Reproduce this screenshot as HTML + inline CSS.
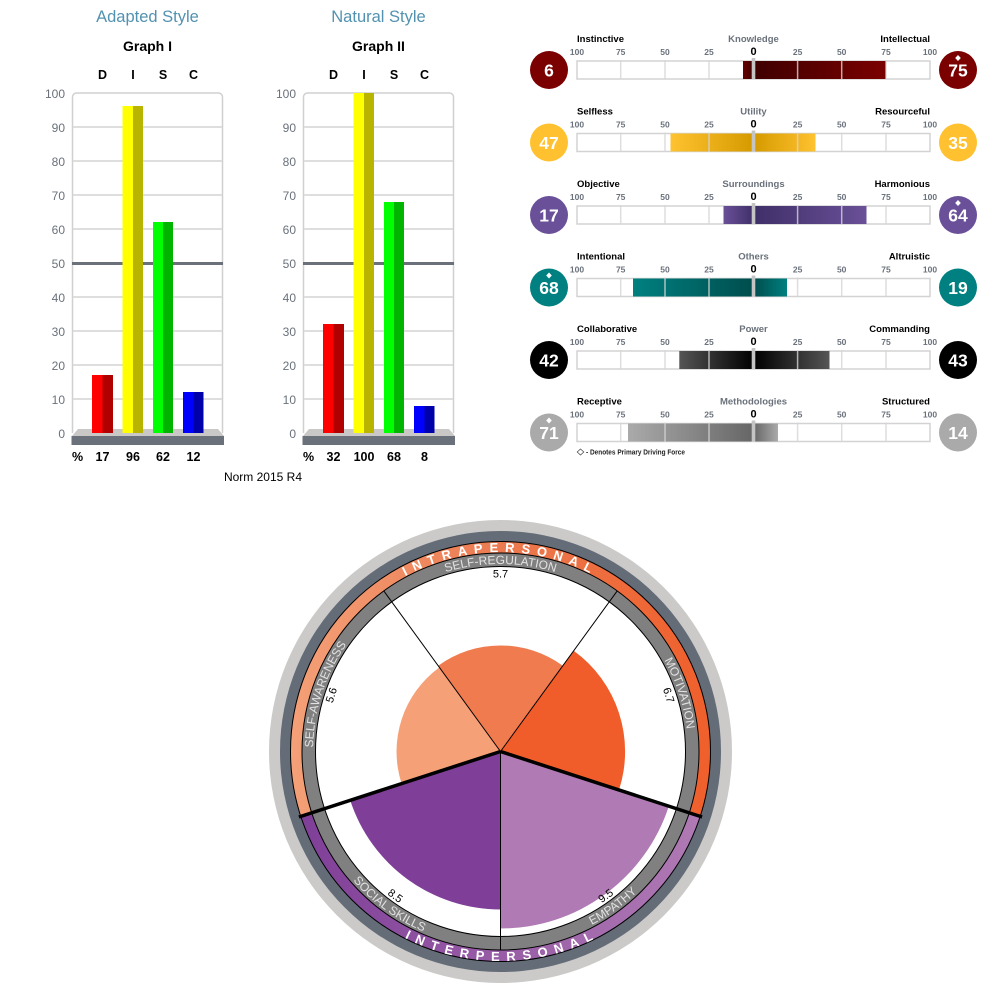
<!DOCTYPE html>
<html>
<head>
<meta charset="utf-8">
<style>
html,body{margin:0;padding:0;background:#fff}
svg{display:block;font-family:"Liberation Sans",sans-serif}
.y{font-size:12px;fill:#6a717b;text-anchor:end}
.b{font-size:12.5px;font-weight:bold;fill:#000;text-anchor:middle}
.h{font-size:16.5px;fill:#5292b0;text-anchor:middle}
.g{font-size:14px;font-weight:bold;fill:#000;text-anchor:middle}
.l{font-size:9.5px;font-weight:bold;fill:#000}
.c{font-size:9.5px;font-weight:bold;fill:#6a717b;text-anchor:middle}
.t{font-size:8.5px;font-weight:bold;fill:#6a717b;text-anchor:middle}
.z{font-size:11px;font-weight:bold;fill:#000;text-anchor:middle}
.n{font-size:17.5px;font-weight:bold;fill:#fff;text-anchor:middle}
.grid line{stroke:#dedede;stroke-width:2}
.tk line{stroke:#d6d6d6;stroke-width:1.5;stroke-opacity:.8}
.rl{font-size:12px;fill:#e2e2e2}
.rb{font-size:13px;font-weight:bold;fill:#fff;letter-spacing:6.65px}
.rb2{font-size:13px;font-weight:bold;fill:#fff;letter-spacing:7.05px}
.v{font-size:11px;fill:#000;text-anchor:middle}
</style>
</head>
<body>
<svg width="1000" height="1000" viewBox="0 0 1000 1000" xmlns="http://www.w3.org/2000/svg">
<defs>
<linearGradient id="a1"><stop offset="0" stop-color="#660000"/><stop offset="1" stop-color="#3e0000"/></linearGradient>
<linearGradient id="b1"><stop offset="0" stop-color="#3e0000"/><stop offset="1" stop-color="#7b0000"/></linearGradient>
<linearGradient id="a2"><stop offset="0" stop-color="#ffc230"/><stop offset="1" stop-color="#d69a00"/></linearGradient>
<linearGradient id="b2"><stop offset="0" stop-color="#d69a00"/><stop offset="1" stop-color="#ffc230"/></linearGradient>
<linearGradient id="a3"><stop offset="0" stop-color="#6a5098"/><stop offset="1" stop-color="#3f2f68"/></linearGradient>
<linearGradient id="b3"><stop offset="0" stop-color="#3f2f68"/><stop offset="1" stop-color="#6a5098"/></linearGradient>
<linearGradient id="a4"><stop offset="0" stop-color="#008080"/><stop offset="1" stop-color="#004d4d"/></linearGradient>
<linearGradient id="b4"><stop offset="0" stop-color="#004d4d"/><stop offset="1" stop-color="#008080"/></linearGradient>
<linearGradient id="a5"><stop offset="0" stop-color="#555"/><stop offset="1" stop-color="#000"/></linearGradient>
<linearGradient id="b5"><stop offset="0" stop-color="#000"/><stop offset="1" stop-color="#555"/></linearGradient>
<linearGradient id="a6"><stop offset="0" stop-color="#aaa"/><stop offset="1" stop-color="#666"/></linearGradient>
<linearGradient id="b6"><stop offset="0" stop-color="#666"/><stop offset="1" stop-color="#aaa"/></linearGradient>
<linearGradient id="ru" gradientUnits="userSpaceOnUse" x1="290" y1="0" x2="711" y2="0"><stop offset="0" stop-color="#f4a078"/><stop offset=".5" stop-color="#ec7a50"/><stop offset="1" stop-color="#ef5f2b"/></linearGradient>
<linearGradient id="rd" gradientUnits="userSpaceOnUse" x1="300" y1="0" x2="701" y2="0"><stop offset="0" stop-color="#7f3f98"/><stop offset="1" stop-color="#b07ab4"/></linearGradient>
<path id="uRb" d="M359.43,892.57 A199.5 199.5 0 1 1 641.57,892.57"/>
<path id="uRl" d="M367.92,884.08 A187.5 187.5 0 1 1 633.08,884.08"/>
<path id="dRb" d="M291,751.5 A209.5 209.5 0 0 0 710,751.5"/>
<path id="dRl" d="M304.5,751.5 A196 196 0 0 0 696.5,751.5"/>
</defs>

<!-- Chart I -->
<text class="h" x="147.5" y="22">Adapted Style</text>
<text class="g" x="147.5" y="51">Graph I</text>
<text class="b" x="102.5" y="79">D</text><text class="b" x="133" y="79">I</text><text class="b" x="163" y="79">S</text><text class="b" x="193.5" y="79">C</text>
<path d="M72.5,433 V97 a4,4 0 0 1 4,-4 H218.5 a4,4 0 0 1 4,4 V433" fill="#fff" stroke="#d0d0d0" stroke-width="1.5"/>
<g class="grid"><line x1="73" x2="222" y1="127" y2="127"/><line x1="73" x2="222" y1="161" y2="161"/><line x1="73" x2="222" y1="195" y2="195"/><line x1="73" x2="222" y1="229" y2="229"/><line x1="73" x2="222" y1="297" y2="297"/><line x1="73" x2="222" y1="331" y2="331"/><line x1="73" x2="222" y1="365" y2="365"/><line x1="73" x2="222" y1="399" y2="399"/></g>
<rect x="72" y="262" width="151" height="3" fill="#6a717b"/>
<polygon points="78,429 218,429 224,436 72,436" fill="#cac8c6"/>
<rect x="71.5" y="436" width="152.5" height="9" fill="#6a717b"/>
<rect x="92" y="375" width="10.5" height="58" fill="#f00"/><rect x="102.5" y="375" width="10.5" height="58" fill="#b00000"/>
<rect x="122.5" y="106" width="10.5" height="327" fill="#ff0"/><rect x="133" y="106" width="10" height="327" fill="#b8b400"/>
<rect x="153" y="222" width="10" height="211" fill="#0f0"/><rect x="163" y="222" width="10" height="211" fill="#00b400"/>
<rect x="183" y="392" width="10.5" height="41" fill="#00f"/><rect x="193.5" y="392" width="10" height="41" fill="#00a"/>
<text class="y" x="65" y="98">100</text><text class="y" x="65" y="132">90</text><text class="y" x="65" y="166">80</text><text class="y" x="65" y="200">70</text><text class="y" x="65" y="234">60</text><text class="y" x="65" y="268">50</text><text class="y" x="65" y="302">40</text><text class="y" x="65" y="336">30</text><text class="y" x="65" y="370">20</text><text class="y" x="65" y="404">10</text><text class="y" x="65" y="438">0</text>
<text class="b" x="77.5" y="461">%</text><text class="b" x="102.5" y="461">17</text><text class="b" x="133" y="461">96</text><text class="b" x="163" y="461">62</text><text class="b" x="193.5" y="461">12</text>
<text x="263" y="481" font-size="12" fill="#000" text-anchor="middle">Norm 2015 R4</text>

<!-- Chart II -->
<text class="h" x="378.5" y="22">Natural Style</text>
<text class="g" x="378.5" y="51">Graph II</text>
<text class="b" x="333.5" y="79">D</text><text class="b" x="364" y="79">I</text><text class="b" x="394" y="79">S</text><text class="b" x="424.5" y="79">C</text>
<path d="M303.5,433 V97 a4,4 0 0 1 4,-4 H449.5 a4,4 0 0 1 4,4 V433" fill="#fff" stroke="#d0d0d0" stroke-width="1.5"/>
<g class="grid"><line x1="304" x2="453" y1="127" y2="127"/><line x1="304" x2="453" y1="161" y2="161"/><line x1="304" x2="453" y1="195" y2="195"/><line x1="304" x2="453" y1="229" y2="229"/><line x1="304" x2="453" y1="297" y2="297"/><line x1="304" x2="453" y1="331" y2="331"/><line x1="304" x2="453" y1="365" y2="365"/><line x1="304" x2="453" y1="399" y2="399"/></g>
<rect x="303" y="262" width="151" height="3" fill="#6a717b"/>
<polygon points="309,429 449,429 455,436 303,436" fill="#cac8c6"/>
<rect x="302.5" y="436" width="152.5" height="9" fill="#6a717b"/>
<rect x="323" y="324" width="10.5" height="109" fill="#f00"/><rect x="333.5" y="324" width="10.5" height="109" fill="#b00000"/>
<rect x="353.5" y="93" width="10.5" height="340" fill="#ff0"/><rect x="364" y="93" width="10" height="340" fill="#b8b400"/>
<rect x="384" y="202" width="10" height="231" fill="#0f0"/><rect x="394" y="202" width="10" height="231" fill="#00b400"/>
<rect x="414" y="406" width="10.5" height="27" fill="#00f"/><rect x="424.5" y="406" width="10" height="27" fill="#00a"/>
<text class="y" x="296" y="98">100</text><text class="y" x="296" y="132">90</text><text class="y" x="296" y="166">80</text><text class="y" x="296" y="200">70</text><text class="y" x="296" y="234">60</text><text class="y" x="296" y="268">50</text><text class="y" x="296" y="302">40</text><text class="y" x="296" y="336">30</text><text class="y" x="296" y="370">20</text><text class="y" x="296" y="404">10</text><text class="y" x="296" y="438">0</text>
<text class="b" x="308.5" y="461">%</text><text class="b" x="333.5" y="461">32</text><text class="b" x="364" y="461">100</text><text class="b" x="394" y="461">68</text><text class="b" x="424.5" y="461">8</text>

<!-- Row 1 -->
<g>
<text class="l" x="577" y="42">Instinctive</text><text class="c" x="753.5" y="42">Knowledge</text><text class="l" x="930" y="42" text-anchor="end">Intellectual</text>
<text class="t" x="577" y="55">100</text><text class="t" x="620.7" y="55">75</text><text class="t" x="665" y="55">50</text><text class="t" x="709" y="55">25</text><text class="z" x="753.5" y="55">0</text><text class="t" x="797.6" y="55">25</text><text class="t" x="841.7" y="55">50</text><text class="t" x="886" y="55">75</text><text class="t" x="930" y="55">100</text>
<rect x="577" y="61" width="353" height="18" fill="#fff" stroke="#d3d3d3" stroke-width="1.5"/>
<rect x="743" y="61" width="10.5" height="18" fill="url(#a1)"/><rect x="753.5" y="61" width="132.5" height="18" fill="url(#b1)"/>
<g class="tk"><line x1="620.7" x2="620.7" y1="60" y2="79"/><line x1="665" x2="665" y1="60" y2="79"/><line x1="709" x2="709" y1="60" y2="79"/><line x1="797.6" x2="797.6" y1="60" y2="79"/><line x1="841.7" x2="841.7" y1="60" y2="79"/><line x1="886" x2="886" y1="60" y2="79"/></g>
<rect x="751.7" y="58" width="3.6" height="21" fill="#c4c4c4"/>
<circle cx="549" cy="70" r="19" fill="#7b0000"/><circle cx="958" cy="70" r="19" fill="#7b0000"/>
<text class="n" x="549" y="76.5">6</text><text class="n" x="958" y="76.5">75</text>
<polygon points="958,55 960.8,58 958,61 955.2,58" fill="#fff"/>
</g>
<!-- Row 2 -->
<g transform="translate(0,72.5)">
<text class="l" x="577" y="42">Selfless</text><text class="c" x="753.5" y="42">Utility</text><text class="l" x="930" y="42" text-anchor="end">Resourceful</text>
<text class="t" x="577" y="55">100</text><text class="t" x="620.7" y="55">75</text><text class="t" x="665" y="55">50</text><text class="t" x="709" y="55">25</text><text class="z" x="753.5" y="55">0</text><text class="t" x="797.6" y="55">25</text><text class="t" x="841.7" y="55">50</text><text class="t" x="886" y="55">75</text><text class="t" x="930" y="55">100</text>
<rect x="577" y="61" width="353" height="18" fill="#fff" stroke="#d3d3d3" stroke-width="1.5"/>
<rect x="670.5" y="61" width="83" height="18" fill="url(#a2)"/><rect x="753.5" y="61" width="62" height="18" fill="url(#b2)"/>
<g class="tk"><line x1="620.7" x2="620.7" y1="60" y2="79"/><line x1="665" x2="665" y1="60" y2="79"/><line x1="709" x2="709" y1="60" y2="79"/><line x1="797.6" x2="797.6" y1="60" y2="79"/><line x1="841.7" x2="841.7" y1="60" y2="79"/><line x1="886" x2="886" y1="60" y2="79"/></g>
<rect x="751.7" y="58" width="3.6" height="21" fill="#c4c4c4"/>
<circle cx="549" cy="70" r="19" fill="#ffc12f"/><circle cx="958" cy="70" r="19" fill="#ffc12f"/>
<text class="n" x="549" y="76.5">47</text><text class="n" x="958" y="76.5">35</text>
</g>
<!-- Row 3 -->
<g transform="translate(0,145)">
<text class="l" x="577" y="42">Objective</text><text class="c" x="753.5" y="42">Surroundings</text><text class="l" x="930" y="42" text-anchor="end">Harmonious</text>
<text class="t" x="577" y="55">100</text><text class="t" x="620.7" y="55">75</text><text class="t" x="665" y="55">50</text><text class="t" x="709" y="55">25</text><text class="z" x="753.5" y="55">0</text><text class="t" x="797.6" y="55">25</text><text class="t" x="841.7" y="55">50</text><text class="t" x="886" y="55">75</text><text class="t" x="930" y="55">100</text>
<rect x="577" y="61" width="353" height="18" fill="#fff" stroke="#d3d3d3" stroke-width="1.5"/>
<rect x="723.5" y="61" width="30" height="18" fill="url(#a3)"/><rect x="753.5" y="61" width="113" height="18" fill="url(#b3)"/>
<g class="tk"><line x1="620.7" x2="620.7" y1="60" y2="79"/><line x1="665" x2="665" y1="60" y2="79"/><line x1="709" x2="709" y1="60" y2="79"/><line x1="797.6" x2="797.6" y1="60" y2="79"/><line x1="841.7" x2="841.7" y1="60" y2="79"/><line x1="886" x2="886" y1="60" y2="79"/></g>
<rect x="751.7" y="58" width="3.6" height="21" fill="#c4c4c4"/>
<circle cx="549" cy="70" r="19" fill="#6a5098"/><circle cx="958" cy="70" r="19" fill="#6a5098"/>
<text class="n" x="549" y="76.5">17</text><text class="n" x="958" y="76.5">64</text>
<polygon points="958,55 960.8,58 958,61 955.2,58" fill="#fff"/>
</g>
<!-- Row 4 -->
<g transform="translate(0,217.5)">
<text class="l" x="577" y="42">Intentional</text><text class="c" x="753.5" y="42">Others</text><text class="l" x="930" y="42" text-anchor="end">Altruistic</text>
<text class="t" x="577" y="55">100</text><text class="t" x="620.7" y="55">75</text><text class="t" x="665" y="55">50</text><text class="t" x="709" y="55">25</text><text class="z" x="753.5" y="55">0</text><text class="t" x="797.6" y="55">25</text><text class="t" x="841.7" y="55">50</text><text class="t" x="886" y="55">75</text><text class="t" x="930" y="55">100</text>
<rect x="577" y="61" width="353" height="18" fill="#fff" stroke="#d3d3d3" stroke-width="1.5"/>
<rect x="633" y="61" width="120.5" height="18" fill="url(#a4)"/><rect x="753.5" y="61" width="33.5" height="18" fill="url(#b4)"/>
<g class="tk"><line x1="620.7" x2="620.7" y1="60" y2="79"/><line x1="665" x2="665" y1="60" y2="79"/><line x1="709" x2="709" y1="60" y2="79"/><line x1="797.6" x2="797.6" y1="60" y2="79"/><line x1="841.7" x2="841.7" y1="60" y2="79"/><line x1="886" x2="886" y1="60" y2="79"/></g>
<rect x="751.7" y="58" width="3.6" height="21" fill="#c4c4c4"/>
<circle cx="549" cy="70" r="19" fill="#008080"/><circle cx="958" cy="70" r="19" fill="#008080"/>
<text class="n" x="549" y="76.5">68</text><text class="n" x="958" y="76.5">19</text>
<polygon points="549,55 551.8,58 549,61 546.2,58" fill="#fff"/>
</g>
<!-- Row 5 -->
<g transform="translate(0,290)">
<text class="l" x="577" y="42">Collaborative</text><text class="c" x="753.5" y="42">Power</text><text class="l" x="930" y="42" text-anchor="end">Commanding</text>
<text class="t" x="577" y="55">100</text><text class="t" x="620.7" y="55">75</text><text class="t" x="665" y="55">50</text><text class="t" x="709" y="55">25</text><text class="z" x="753.5" y="55">0</text><text class="t" x="797.6" y="55">25</text><text class="t" x="841.7" y="55">50</text><text class="t" x="886" y="55">75</text><text class="t" x="930" y="55">100</text>
<rect x="577" y="61" width="353" height="18" fill="#fff" stroke="#d3d3d3" stroke-width="1.5"/>
<rect x="679.3" y="61" width="74.2" height="18" fill="url(#a5)"/><rect x="753.5" y="61" width="76" height="18" fill="url(#b5)"/>
<g class="tk"><line x1="620.7" x2="620.7" y1="60" y2="79"/><line x1="665" x2="665" y1="60" y2="79"/><line x1="709" x2="709" y1="60" y2="79"/><line x1="797.6" x2="797.6" y1="60" y2="79"/><line x1="841.7" x2="841.7" y1="60" y2="79"/><line x1="886" x2="886" y1="60" y2="79"/></g>
<rect x="751.7" y="58" width="3.6" height="21" fill="#c4c4c4"/>
<circle cx="549" cy="70" r="19" fill="#000"/><circle cx="958" cy="70" r="19" fill="#000"/>
<text class="n" x="549" y="76.5">42</text><text class="n" x="958" y="76.5">43</text>
</g>
<!-- Row 6 -->
<g transform="translate(0,362.5)">
<text class="l" x="577" y="42">Receptive</text><text class="c" x="753.5" y="42">Methodologies</text><text class="l" x="930" y="42" text-anchor="end">Structured</text>
<text class="t" x="577" y="55">100</text><text class="t" x="620.7" y="55">75</text><text class="t" x="665" y="55">50</text><text class="t" x="709" y="55">25</text><text class="z" x="753.5" y="55">0</text><text class="t" x="797.6" y="55">25</text><text class="t" x="841.7" y="55">50</text><text class="t" x="886" y="55">75</text><text class="t" x="930" y="55">100</text>
<rect x="577" y="61" width="353" height="18" fill="#fff" stroke="#d3d3d3" stroke-width="1.5"/>
<rect x="628" y="61" width="125.5" height="18" fill="url(#a6)"/><rect x="753.5" y="61" width="24.5" height="18" fill="url(#b6)"/>
<g class="tk"><line x1="620.7" x2="620.7" y1="60" y2="79"/><line x1="665" x2="665" y1="60" y2="79"/><line x1="709" x2="709" y1="60" y2="79"/><line x1="797.6" x2="797.6" y1="60" y2="79"/><line x1="841.7" x2="841.7" y1="60" y2="79"/><line x1="886" x2="886" y1="60" y2="79"/></g>
<rect x="751.7" y="58" width="3.6" height="21" fill="#c4c4c4"/>
<circle cx="549" cy="70" r="19" fill="#aaa"/><circle cx="958" cy="70" r="19" fill="#aaa"/>
<text class="n" x="549" y="76.5">71</text><text class="n" x="958" y="76.5">14</text>
<polygon points="549,55 551.8,58 549,61 546.2,58" fill="#fff"/>
</g>
<polygon points="580.5,449 583.8,452 580.5,455 577.2,452" fill="#fff" stroke="#444" stroke-width=".7"/>
<text x="586" y="454.5" font-size="7" font-weight="bold" fill="#222" textLength="99" lengthAdjust="spacingAndGlyphs">- Denotes Primary Driving Force</text>

<!-- Wheel -->
<circle cx="500.5" cy="751.5" r="231.5" fill="#cbcac8"/>
<circle cx="500.5" cy="751.5" r="220.5" fill="#646c77"/>
<circle cx="500.5" cy="751.5" r="210" fill="url(#ru)"/>
<path d="M500.5,751.5 L700.2,816.4 A210 210 0 0 1 300.8,816.4 Z" fill="url(#rd)"/>
<circle cx="500.5" cy="751.5" r="210" fill="none" stroke="#000" stroke-width="1"/>
<circle cx="500.5" cy="751.5" r="198.5" fill="#808080" stroke="#000" stroke-width="1"/>
<circle cx="500.5" cy="751.5" r="185" fill="#fff" stroke="#000" stroke-width="1"/>
<path d="M500.5,751.5 L438.2,665.7 A106 106 0 0 1 562.8,665.7 Z" fill="#f07b4e"/>
<path d="M500.5,751.5 L573.7,650.7 A124.6 124.6 0 0 1 619,790 Z" fill="#f15d2a"/>
<path d="M500.5,751.5 L401.6,783.6 A104 104 0 0 1 439.4,667.4 Z" fill="#f5a077"/>
<path d="M500.5,751.5 L500.5,909.5 A158 158 0 0 1 350.2,800.3 Z" fill="#7f3f98"/>
<path d="M500.5,751.5 L668.8,806.2 A177 177 0 0 1 500.5,928.5 Z" fill="#b07ab4"/>
<line x1="500.5" y1="751.5" x2="617.2" y2="590.9" stroke="#000" stroke-width="1"/>
<line x1="500.5" y1="751.5" x2="383.8" y2="590.9" stroke="#000" stroke-width="1"/>
<line x1="500.5" y1="751.5" x2="500.5" y2="950" stroke="#000" stroke-width="1"/>
<line x1="500.5" y1="751.5" x2="702.1" y2="817" stroke="#000" stroke-width="3.5"/>
<line x1="500.5" y1="751.5" x2="298.9" y2="817" stroke="#000" stroke-width="3.5"/>

<text class="rb" text-anchor="middle"><textPath href="#uRb" startOffset="50%">INTRAPERSONAL</textPath></text>
<text class="rb2" text-anchor="middle"><textPath href="#dRb" startOffset="50.3%">INTERPERSONAL</textPath></text>
<text class="rl" text-anchor="middle"><textPath href="#uRl" startOffset="50%">SELF-REGULATION</textPath></text>
<text class="rl" text-anchor="middle"><textPath href="#uRl" startOffset="23.33%">SELF-AWARENESS</textPath></text>
<text class="rl" text-anchor="middle"><textPath href="#uRl" startOffset="76.67%">MOTIVATION</textPath></text>
<text class="rl" text-anchor="middle"><textPath href="#dRl" startOffset="30%">SOCIAL SKILLS</textPath></text>
<text class="rl" text-anchor="middle"><textPath href="#dRl" startOffset="70%">EMPATHY</textPath></text>

<text class="v" x="500.5" y="577.5">5.7</text>
<text class="v" transform="translate(331,695) rotate(-72)" y="4">5.6</text>
<text class="v" transform="translate(669,695) rotate(72)" y="4">6.7</text>
<text class="v" transform="translate(395.5,895.5) rotate(36)" y="4">8.5</text>
<text class="v" transform="translate(605.5,895.5) rotate(-36)" y="4">9.5</text>
</svg>
</body>
</html>
